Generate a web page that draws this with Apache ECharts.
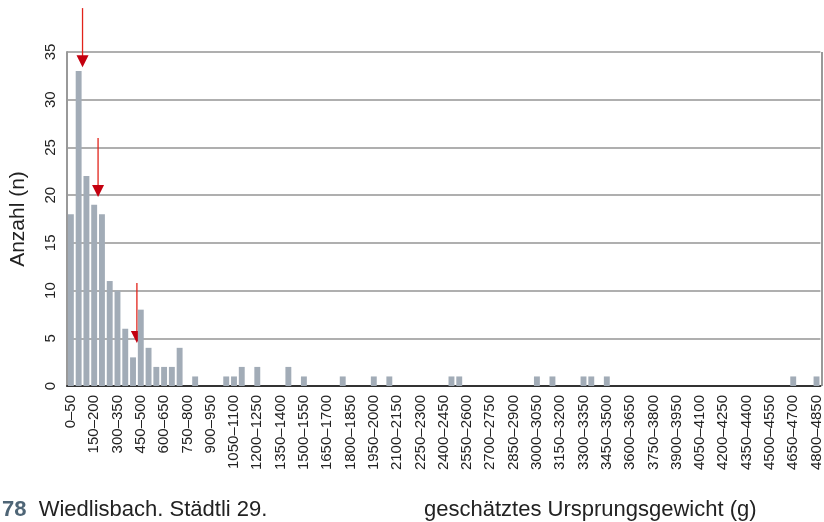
<!DOCTYPE html>
<html>
<head>
<meta charset="utf-8">
<script src="https://cdn.jsdelivr.net/npm/echarts@6/dist/echarts.min.js"></script>
<style>
  html, body { margin: 0; padding: 0; background: #fff; }
  #chart { width: 824px; height: 522px; }
</style>
</head>
<body>
<div id="chart"></div>
<script>
// Weight classes of 50 g, 0–50 up to 4800–4850
const binWidth = 50;
const binCount = 97;
const categories = [];
for (let i = 0; i < binCount; i++) {
  categories.push((i * binWidth) + '\u2013' + ((i + 1) * binWidth));
}

// Non-empty classes: [class index, count]
const occupiedClasses = [
  [0, 18], [1, 33], [2, 22], [3, 19], [4, 18], [5, 11], [6, 10], [7, 6],
  [8, 3], [9, 8], [10, 4], [11, 2], [12, 2], [13, 2], [14, 4], [16, 1],
  [20, 1], [21, 1], [22, 2], [24, 2], [28, 2], [30, 1], [35, 1], [39, 1],
  [41, 1], [49, 1], [50, 1], [60, 1], [62, 1], [66, 1], [67, 1], [69, 1],
  [93, 1], [96, 1]
];
const counts = new Array(binCount).fill(0);
occupiedClasses.forEach(([i, n]) => { counts[i] = n; });

const yTicks = [0, 5, 10, 15, 20, 25, 30, 35];

// Peak markers: [weight in g, arrow tip (n), arrow tail (n)]
const peakWeights = [100, 200, 450];
const peakTips = [33.4, 19.8, 4.5];
const peakTails = [39.6, 26.0, 10.8];
const peakArrows = peakWeights.map((w, i) => [w, peakTips[i], peakTails[i]]);

const font = 'Liberation Sans';

const chart = echarts.init(document.getElementById('chart'), null, { renderer: 'canvas' });

chart.setOption({
  animation: false,
  backgroundColor: '#ffffff',
  textStyle: { fontFamily: font },
  grid: { left: 63, right: 3, top: 52, bottom: 136, containLabel: false,
          show: true, borderColor: 'transparent' },
  xAxis: [
    {
      type: 'category',
      data: categories,
      boundaryGap: true,
      axisLine: { show: true, lineStyle: { color: '#333333', width: 2 } },
      axisTick: { show: false },
      axisLabel: {
        interval: 2,
        rotate: 90,
        margin: 9,
        formatter: v => '{t|' + v + '}',
        rich: {
          t: { fontSize: 15, fontFamily: font, color: '#222222' }
        }
      },
      splitLine: { show: false }
    },
    {
      type: 'value',
      min: 0,
      max: binCount * binWidth,
      show: false
    }
  ],
  yAxis: {
    type: 'value',
    min: 0,
    max: 35,
    interval: 5,
    name: 'Anzahl (n)',
    nameLocation: 'middle',
    nameGap: 38,
    nameRotate: 90,
    nameTextStyle: { fontSize: 21, color: '#222222', fontFamily: font },
    axisLine: { show: true, lineStyle: { color: '#999999', width: 2 } },
    axisTick: { show: false },
    axisLabel: {
      rotate: 90,
      margin: 9,
      verticalAlign: 'bottom',
      align: 'center',
      formatter: v => (yTicks.indexOf(v) >= 0 ? '{t|' + v + '}' : ''),
      rich: {
        t: { fontSize: 15, fontFamily: font, color: '#222222' }
      }
    },
    splitLine: { show: true, lineStyle: { color: '#959595', width: 1.5 } }
  },
  series: [
    {
      type: 'bar',
      xAxisIndex: 0,
      data: counts,
      barCategoryGap: '24%',
      itemStyle: { color: '#a2acb7' }
    },
    {
      type: 'custom',
      xAxisIndex: 1,
      clip: false,
      data: peakArrows,
      renderItem: function (params, api) {
        const tip = api.coord([api.value(0), api.value(1)]);
        const tail = api.coord([api.value(0), api.value(2)]);
        const hw = 6, hh = 12;
        return {
          type: 'group',
          children: [
            {
              type: 'line',
              shape: { x1: tail[0], y1: tail[1], x2: tip[0], y2: tip[1] - hh + 1 },
              style: { stroke: '#e2231a', lineWidth: 1.3 }
            },
            {
              type: 'polygon',
              shape: { points: [[tip[0] - hw, tip[1] - hh], [tip[0] + hw, tip[1] - hh], [tip[0], tip[1]]] },
              style: { fill: '#c4000f' }
            }
          ]
        };
      }
    }
  ],
  graphic: [
    {
      type: 'line',
      shape: { x1: 822, y1: 52, x2: 822, y2: 386 },
      style: { stroke: '#999999', lineWidth: 2 }
    },
    {
      type: 'text',
      left: 2,
      top: 499,
      style: {
        text: '{num|78}  {txt|Wiedlisbach. Städtli 29.}',
        fontSize: 22,
        rich: {
          num: { fontSize: 22, fontWeight: 'bold', fill: '#4e6576', fontFamily: font },
          txt: { fontSize: 22, fill: '#222222', fontFamily: font }
        }
      }
    },
    {
      type: 'text',
      left: 424,
      top: 499,
      style: {
        text: 'geschätztes Ursprungsgewicht (g)',
        fontSize: 22,
        fill: '#222222',
        fontFamily: font
      }
    }
  ]
});
</script>
</body>
</html>
